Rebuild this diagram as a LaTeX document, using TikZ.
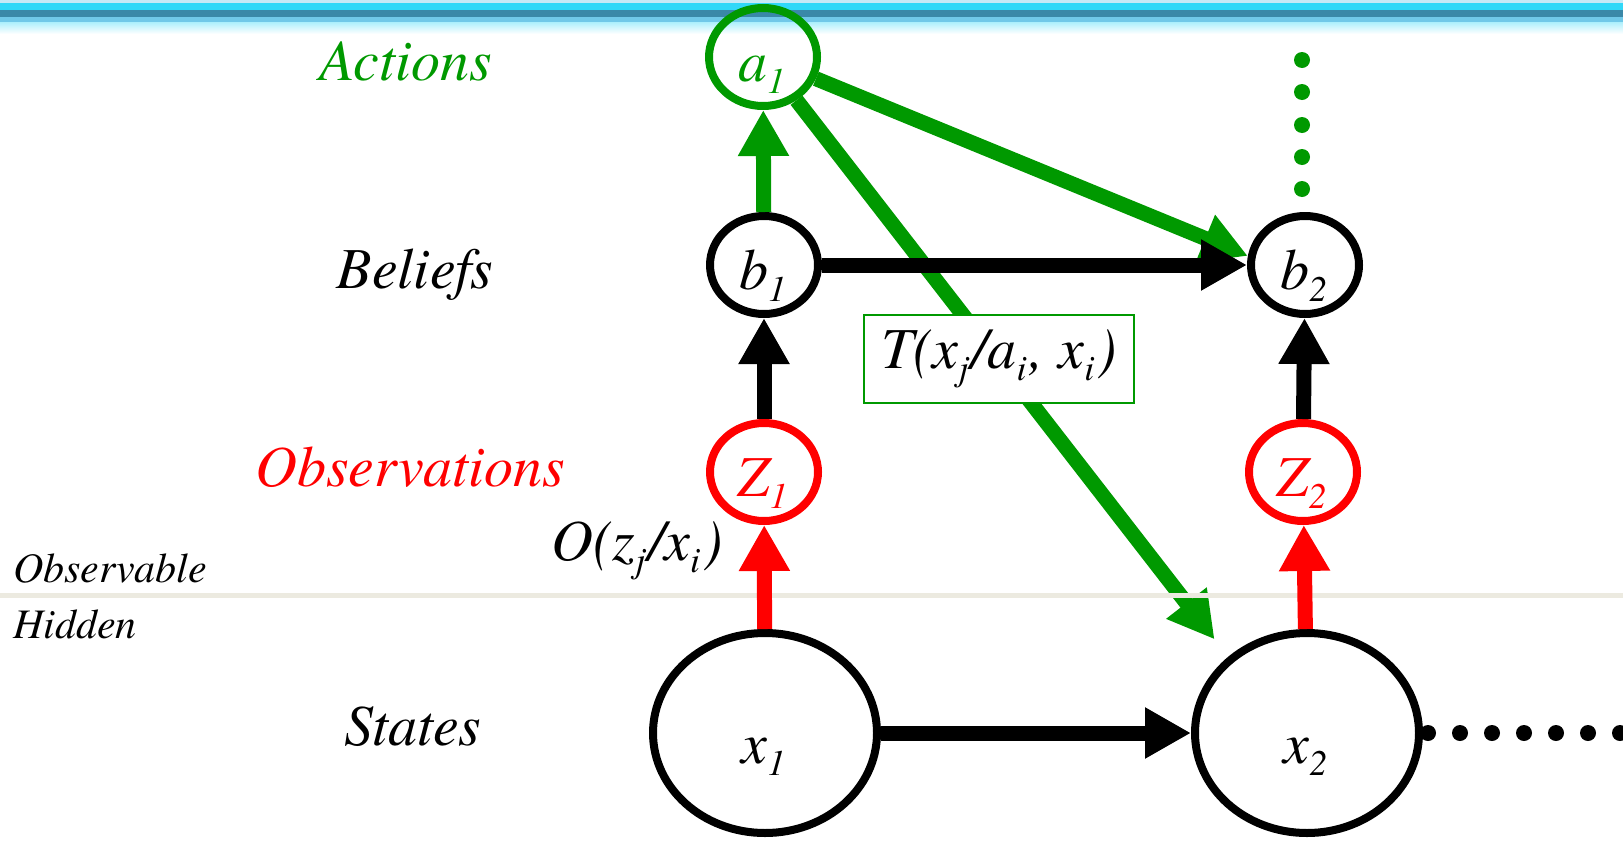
\documentclass[tikz,border=0pt]{standalone}
\usepackage{fontspec}
\setmainfont{texgyretermes}[Extension=.otf, UprightFont=*-regular, ItalicFont=*-italic, BoldFont=*-bold, BoldItalicFont=*-bolditalic]
\usetikzlibrary{arrows.meta,shapes.geometric}

\definecolor{actgreen}{RGB}{0,153,0}
\definecolor{obsred}{RGB}{255,0,0}
\definecolor{barcyan}{RGB}{48,216,248}
\definecolor{barteal}{RGB}{58,136,168}
\definecolor{barpale}{RGB}{112,200,232}
\definecolor{sepgray}{RGB}{236,234,224}

\newcommand\lowidx[2]{#1\raisebox{-6pt}{\fontsize{18}{18}\selectfont #2}\kern1.5pt}

\tikzset{
  smallnode/.style={ellipse, draw, line width=4pt, minimum width=54pt, minimum height=49pt, inner sep=0pt, text height=24pt, text depth=0pt},
  bignode/.style={ellipse, draw, line width=4pt, minimum width=112pt, minimum height=100pt, inner sep=0pt, text height=30pt, text depth=0pt},
  bigarrow/.style={line width=7.5pt, -{Triangle[width=24pt,length=23pt]}},
  lbl/.style={font=\fontsize{29}{31}\selectfont\itshape},
  sidelbl/.style={font=\fontsize{21}{23}\selectfont\itshape, anchor=base west},
}

\begin{document}
\begin{tikzpicture}[x=0.5pt, y=-0.5pt]
    \useasboundingbox (0,0) rectangle (1623,841);

    % top bar
    \fill[barpale!40] (0,0) rectangle (1623,3);
    \fill[barcyan] (0,3) rectangle (1623,10);
    \fill[barteal] (0,10) rectangle (1623,17);
    \fill[barpale] (0,17) rectangle (1623,22);
    \shade[top color=barcyan!40, bottom color=white] (0,22) rectangle (1623,34);

    % nodes
    \node[smallnode, draw=actgreen, text=actgreen, lbl] (a1) at (763,57) {\lowidx{a}{1}};
    \node[smallnode, lbl] (b1) at (764,265) {\lowidx{b}{1}};
    \node[smallnode, lbl] (b2) at (1305,265) {\lowidx{b}{2}};
    \node[smallnode, draw=obsred, text=obsred, lbl] (z1) at (764,472) {\lowidx{Z}{1}};
    \node[smallnode, draw=obsred, text=obsred, lbl] (z2) at (1303,472) {\lowidx{Z}{2}};
    \node[bignode, lbl] (x1) at (765,733) {\lowidx{x}{1}};
    \node[bignode, lbl] (x2) at (1307,733) {\lowidx{x}{2}};

    % row labels
    \node[lbl, text=actgreen, anchor=base] (lactions) at (406,80) {Actions};
    \node[lbl, anchor=base] (lbeliefs) at (415,288) {Beliefs};
    \node[lbl, text=obsred, anchor=base] (lobs) at (410,486) {Observations};
    \node[lbl, anchor=base] (lstates) at (413,745) {States};
    \node[sidelbl] (lvisible) at (6,582) {Observable};
    \node[sidelbl] (lhidden) at (6,638) {Hidden};

    % actions
    \draw[bigarrow, actgreen] (a1) -- (b2.171);
    \draw[bigarrow, actgreen, shorten >=11pt] (a1) -- (x2.136);
    \draw[bigarrow, actgreen] (b1) -- (a1);

    % observable / hidden
    \draw[sepgray, line width=2.5pt] (0,595) -- (1623,595);

    \draw[bigarrow, obsred] (x1) -- (z1);
    \draw[bigarrow, obsred] (x2) -- (z2);
    \draw[bigarrow] (z1) -- (b1);
    \draw[bigarrow] (z2) -- (b2);
    \draw[bigarrow] (b1) -- (b2);
    \draw[bigarrow] (x1) -- (x2);

    \node[lbl, anchor=base] (lobsmodel) at (637,560) {O(\lowidx{z}{j}/\lowidx{x}{i})};
    \node[draw=actgreen, line width=1pt, fill=white, lbl, minimum width=135pt, minimum height=44pt] (ttrans) at (999,359) {T(\lowidx{x}{j}/\lowidx{a}{i}, \lowidx{x}{i})};

    % continuation dots
    \foreach \y in {60,92,125,157,189}
        \fill[actgreen] (1302,\y) circle (4pt);
    \foreach \x in {1428,1460,...,1625}
        \fill (\x,733) circle (4pt);
\end{tikzpicture}
\end{document}
